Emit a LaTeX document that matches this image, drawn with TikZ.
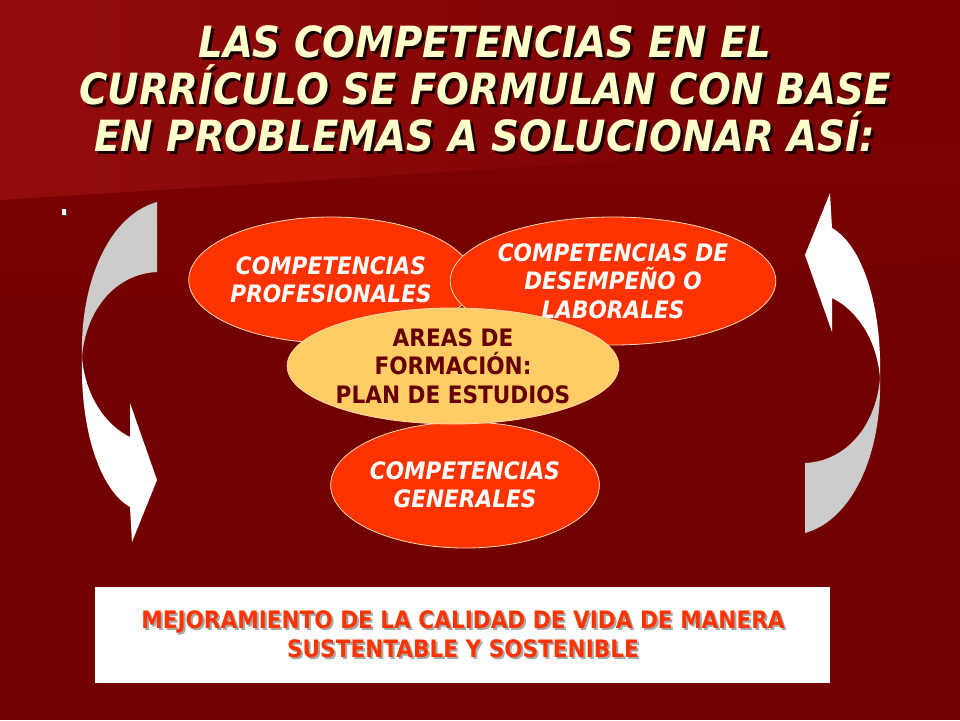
\documentclass[tikz,border=0pt]{standalone}
\usepackage{fontspec}
\setmainfont{DejaVu Sans}[FakeStretch=0.9]
\usetikzlibrary{shapes.geometric}
\definecolor{bgdark}{HTML}{720000}
\definecolor{bgtop}{HTML}{930C0C}
\definecolor{bgtopright}{HTML}{780000}
\definecolor{bgband}{HTML}{7C0202}
\definecolor{titlecol}{HTML}{FFFFCC}
\definecolor{ellred}{HTML}{FF3300}
\definecolor{ellyellow}{HTML}{FFCC66}
\definecolor{areatext}{HTML}{660000}
\definecolor{edgecol}{HTML}{FFD9B3}
\definecolor{arrowgray}{HTML}{CCCCCC}
\definecolor{goalshadow}{HTML}{A8A8A8}
\definecolor{titleshadowcol}{HTML}{1A0000}
% text with a drop shadow, kept inside one node
\newcommand{\shadowline}[4]{\makebox[0pt][l]{\kern#2\raisebox{-#3}{\textcolor{#4}{#1}}}#1}
\newcommand{\curvedarrowshape}{%
  \fill[arrowgray] (157,202) -- (157,272) .. controls (115,274) and (86,310) .. (82,357)
     .. controls (80,280) and (110,215) .. (157,202) -- cycle;
  \fill[white] (82,357) .. controls (80,430) and (100,490) .. (130,507) -- (132,542)
     -- (157,480) -- (130,403) -- (130,437) .. controls (105,425) and (85,395) .. (82,357) -- cycle;
}
\begin{document}
\begin{tikzpicture}[x=1pt,y=-1pt,
  titletext/.style={align=center, inner sep=0pt, text=titlecol,
    font=\fontsize{43}{47}\selectfont\bfseries\itshape},
  ell/.style={ellipse, fill=ellred, draw=edgecol, line width=0.8pt, inner sep=0pt,
    text=white, align=center, font=\fontsize{24}{28.5}\selectfont\bfseries\itshape},
  areaell/.style={ell, fill=ellyellow, text=areatext, font=\fontsize{24}{28.5}\selectfont\bfseries},
  goalbox/.style={rectangle, fill=white, inner sep=0pt},
  goaltext/.style={align=center, inner sep=0pt, text=ellred,
    font=\fontsize{24}{29}\selectfont\bfseries}]
\useasboundingbox (0,0) rectangle (960,720);
% background
\fill[bgdark] (0,0) rectangle (960,720);
\shade[top color=bgband, bottom color=bgdark] (0,200) -- (960,140) -- (960,260) -- (0,320) -- cycle;
\shade[left color=bgtop, right color=bgtopright] (0,0) -- (960,0) -- (960,140) -- (0,200) -- cycle;
% title
\node[titletext] (title) at (485,90) {%
  \shadowline{LAS COMPETENCIAS EN EL}{3pt}{3pt}{titleshadowcol}\\
  \shadowline{CURRÍCULO SE FORMULAN CON BASE}{3pt}{3pt}{titleshadowcol}\\
  \shadowline{EN PROBLEMAS A SOLUCIONAR ASÍ:}{3pt}{3pt}{titleshadowcol}};
% bullet
\fill[black!70] (63,210) rectangle (67,216);
\fill[white] (62,209) rectangle (66,215);
% curved arrows
\curvedarrowshape
\begin{scope}[shift={(962,735)}, xscale=-1, yscale=-1]
  \curvedarrowshape
\end{scope}
% ellipses
\node[ell, minimum width=276, minimum height=126] (prof) at (331,280) {COMPETENCIAS\\PROFESIONALES};
\node[ell, minimum width=310, minimum height=128] (desem) at (613,281) {COMPETENCIAS DE\\DESEMPEÑO O\\LABORALES};
\node[ell, minimum width=258, minimum height=126] (gen) at (465,485) {COMPETENCIAS\\GENERALES};
\node[areaell, minimum width=324, minimum height=116] (areas) at (453,366) {AREAS DE\\FORMACIÓN:\\PLAN DE ESTUDIOS};
% goal box
\node[goalbox, minimum width=735, minimum height=96] (goal) at (462.5,635) {};
\node[goaltext] (goaltxt) at (463,635) {%
  \shadowline{MEJORAMIENTO DE LA CALIDAD DE VIDA DE MANERA}{2pt}{2pt}{goalshadow}\\
  \shadowline{SUSTENTABLE Y SOSTENIBLE}{2pt}{2pt}{goalshadow}};
\end{tikzpicture}
\end{document}
